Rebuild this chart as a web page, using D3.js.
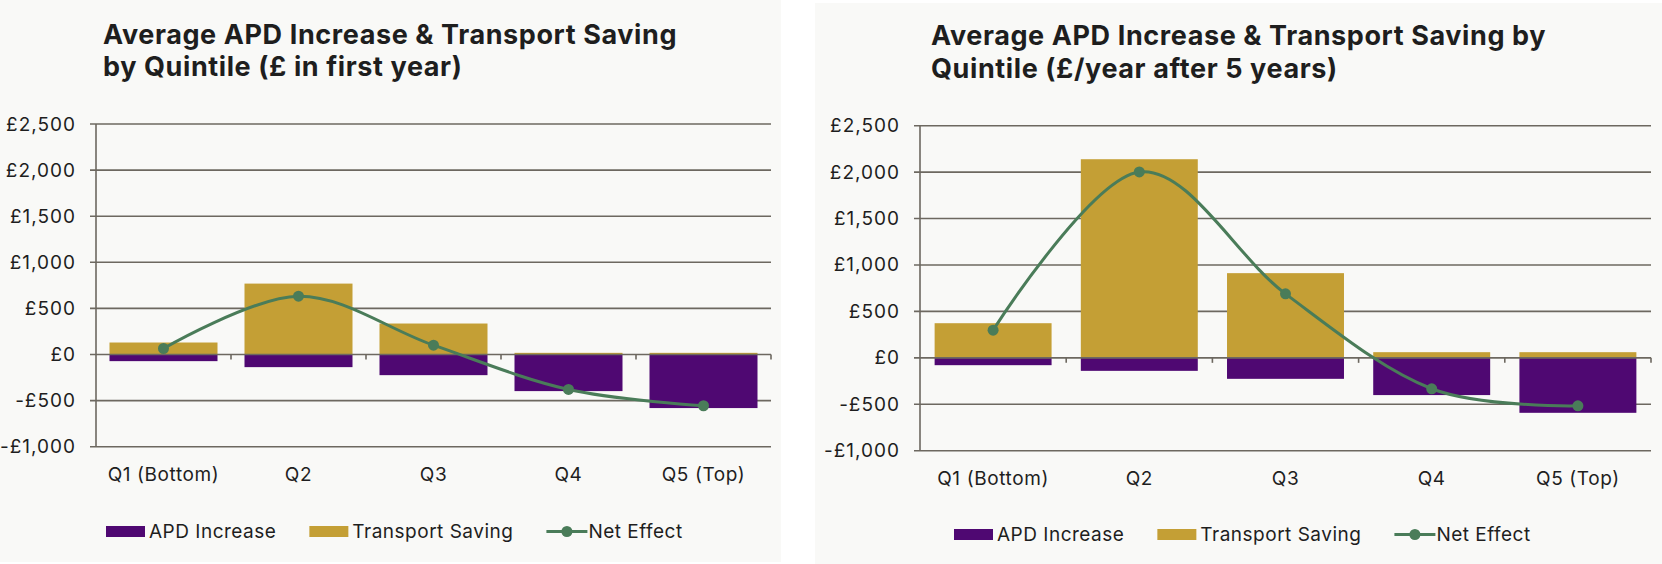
<!DOCTYPE html>
<html>
<head>
<meta charset="utf-8">
<script src="https://cdn.jsdelivr.net/npm/d3@7"></script>
<style>
  body { margin: 0; background: #ffffff; }
  svg { display: block; }
  text { font-family: Inter, "Open Sans", sans-serif; fill: #1e1e1e; }
</style>
</head>
<body>
<div id="chart"></div>
<script>
// categories and values
const quintiles = ['Q1 (Bottom)', 'Q2', 'Q3', 'Q4', 'Q5 (Top)'];
const yTicks = [-1000, -500, 0, 500, 1000, 1500, 2000, 2500];
const seriesNames = ['APD Increase', 'Transport Saving', 'Net Effect'];

const firstYearApd = [-72, -137, -224, -397, -581];
const firstYearTransport = [130, 769, 336, 18, 18];
const firstYearNet = [65, 632, 101, -379, -556];

const fiveYearApd = [-79, -140, -226, -401, -592];
const fiveYearTransport = [373, 2139, 912, 61, 61];
const fiveYearNet = [298, 2002, 689, -333, -517];

const titleFirstYear = ['Average APD Increase & Transport Saving', 'by Quintile (£ in first year)'];
const titleFiveYear = ['Average APD Increase & Transport Saving by', 'Quintile (£/year after 5 years)'];

const purple = '#4f0872';
const gold = '#c49f35';
const green = '#4a7c59';
const gridColor = '#6d6860';

const width = 1662, height = 564;

const svg = d3.select('#chart').append('svg')
  .attr('width', width)
  .attr('height', height);

const fmt = v => (v < 0 ? '-£' : '£') + d3.format(',')(Math.abs(v));

function drawChart(opts) {
  const g = svg.append('g');

  g.append('rect')
    .attr('x', opts.panel[0]).attr('y', opts.panel[1])
    .attr('width', opts.panel[2]).attr('height', opts.panel[3])
    .attr('fill', '#f9f9f7');

  // title
  const title = g.append('text')
    .attr('x', opts.titleX)
    .attr('y', opts.titleY)
    .style('font-weight', 700)
    .style('font-size', '27px')
    .style('letter-spacing', '0.6px');
  opts.title.forEach((line, i) => {
    title.append('tspan')
      .attr('x', opts.titleX)
      .attr('dy', i === 0 ? 0 : 32.5)
      .text(line);
  });

  const x = d3.scaleBand()
    .domain(quintiles)
    .range([opts.left, opts.right])
    .paddingInner(0.2)
    .paddingOuter(0.1);

  const y = d3.scaleLinear()
    .domain([-1000, 2500])
    .range([opts.bottom, opts.top]);

  // gridlines
  g.append('g')
    .selectAll('line')
    .data(yTicks.filter(d => d !== 0))
    .join('line')
    .attr('x1', opts.left - 6).attr('x2', opts.right)
    .attr('y1', d => y(d)).attr('y2', d => y(d))
    .attr('stroke', gridColor)
    .attr('stroke-width', 1.6);

  // y axis labels
  g.append('g')
    .selectAll('text')
    .data(yTicks)
    .join('text')
    .attr('x', opts.left - 20)
    .attr('y', d => y(d))
    .attr('text-anchor', 'end')
    .attr('dominant-baseline', 'central')
    .style('font-size', '19px')
    .style('letter-spacing', '1px')
    .text(fmt);

  // bars
  g.append('g')
    .selectAll('rect')
    .data(opts.transport)
    .join('rect')
    .attr('x', (d, i) => x(quintiles[i]))
    .attr('width', x.bandwidth())
    .attr('y', d => y(d))
    .attr('height', d => y(0) - y(d))
    .attr('fill', gold);

  g.append('g')
    .selectAll('rect')
    .data(opts.apd)
    .join('rect')
    .attr('x', (d, i) => x(quintiles[i]))
    .attr('width', x.bandwidth())
    .attr('y', y(0))
    .attr('height', d => y(d) - y(0))
    .attr('fill', purple);

  // y axis line
  g.append('line')
    .attr('x1', opts.left).attr('x2', opts.left)
    .attr('y1', opts.top).attr('y2', opts.bottom)
    .attr('stroke', gridColor)
    .attr('stroke-width', 1.6);

  // category axis at zero, with ticks between categories
  g.append('line')
    .attr('x1', opts.left - 6).attr('x2', opts.right)
    .attr('y1', y(0)).attr('y2', y(0))
    .attr('stroke', gridColor)
    .attr('stroke-width', 1.6);

  const step = x.step();
  g.append('g')
    .selectAll('line')
    .data(d3.range(1, quintiles.length + 1))
    .join('line')
    .attr('x1', i => opts.left + i * step).attr('x2', i => opts.left + i * step)
    .attr('y1', y(0)).attr('y2', y(0) + 5)
    .attr('stroke', gridColor)
    .attr('stroke-width', 1.6);

  // category labels
  g.append('g')
    .selectAll('text')
    .data(quintiles)
    .join('text')
    .attr('x', d => x(d) + x.bandwidth() / 2)
    .attr('y', opts.bottom + 34)
    .attr('text-anchor', 'middle')
    .style('font-size', '19px')
    .style('letter-spacing', '0.6px')
    .text(d => d);

  // net effect line
  const line = d3.line()
    .x((d, i) => x(quintiles[i]) + x.bandwidth() / 2)
    .y(d => y(d))
    .curve(d3.curveCardinal.tension(0));

  g.append('path')
    .datum(opts.net)
    .attr('d', line)
    .attr('fill', 'none')
    .attr('stroke', green)
    .attr('stroke-width', 3);

  g.append('g')
    .selectAll('circle')
    .data(opts.net)
    .join('circle')
    .attr('cx', (d, i) => x(quintiles[i]) + x.bandwidth() / 2)
    .attr('cy', d => y(d))
    .attr('r', 5.5)
    .attr('fill', green);

  // legend
  const leg = g.append('g').attr('transform', `translate(${opts.legendX},${opts.legendY})`);
  let cx = 0;
  seriesNames.forEach((name, i) => {
    if (i < 2) {
      leg.append('rect')
        .attr('x', cx).attr('y', -12)
        .attr('width', 39).attr('height', 11)
        .attr('fill', i === 0 ? purple : gold);
    } else {
      leg.append('line')
        .attr('x1', cx).attr('x2', cx + 41)
        .attr('y1', -6.5).attr('y2', -6.5)
        .attr('stroke', green).attr('stroke-width', 3);
      leg.append('circle')
        .attr('cx', cx + 20.5).attr('cy', -6.5).attr('r', 5.5)
        .attr('fill', green);
    }
    const t = leg.append('text')
      .attr('x', cx + (i < 2 ? 43 : 42))
      .attr('y', 0)
      .style('font-size', '19px')
      .style('letter-spacing', '0.5px')
      .text(name);
    cx += (i < 2 ? 43 : 42) + t.node().getComputedTextLength() + 33;
  });
}

drawChart({
  panel: [0, 0, 781, 562],
  title: titleFirstYear, titleX: 103, titleY: 43.5,
  left: 96, right: 771, top: 124, bottom: 446.7,
  apd: firstYearApd, transport: firstYearTransport, net: firstYearNet,
  legendX: 106, legendY: 538
});

drawChart({
  panel: [815, 3, 847, 561],
  title: titleFiveYear, titleX: 931, titleY: 45,
  left: 920, right: 1651, top: 125.7, bottom: 450.7,
  apd: fiveYearApd, transport: fiveYearTransport, net: fiveYearNet,
  legendX: 954, legendY: 541
});
</script>
</body>
</html>
